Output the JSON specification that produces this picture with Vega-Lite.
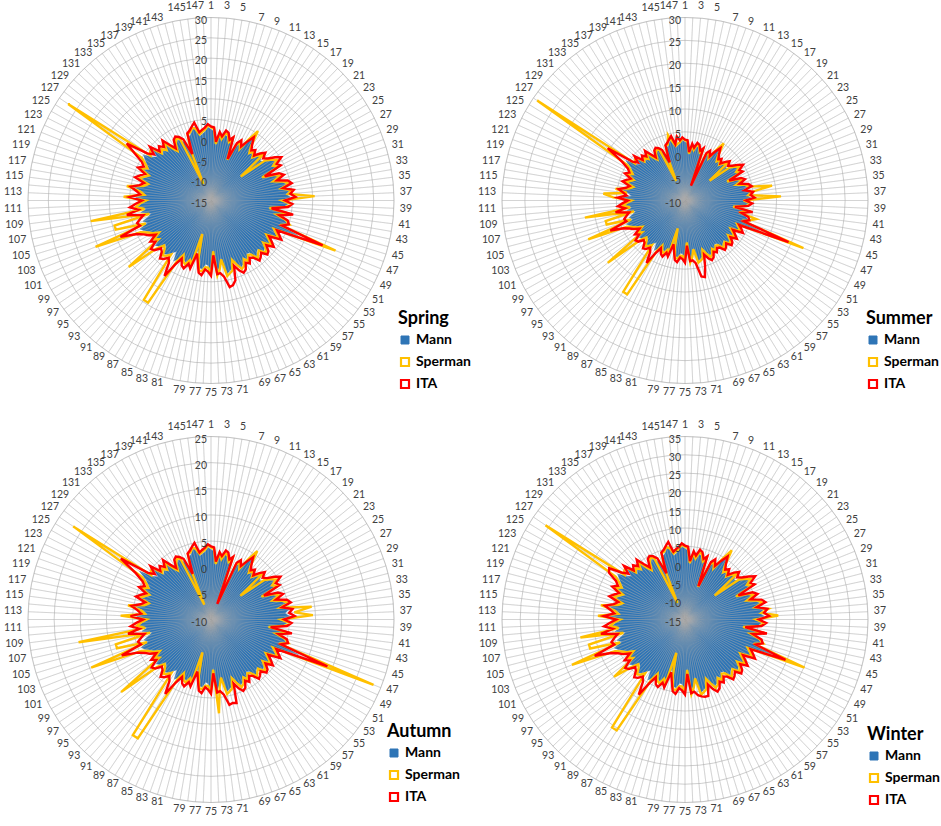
{
  "$schema": "https://vega.github.io/schema/vega-lite/v6.json",
  "padding": 0,
  "bounds": "flush",
  "background": "white",
  "columns": 2,
  "spacing": {"row": 18, "column": 52},
  "datasets": {
    "spring": [
      {"i":1,"M":2.5,"S":3,"I":3.2},{"i":2,"M":2,"S":2.6,"I":3},{"i":3,"M":-1.5,"S":-1,"I":-0.5},{"i":4,"M":1,"S":1.5,"I":2},{"i":5,"M":0,"S":0.3,"I":1},
      {"i":6,"M":1.5,"S":2,"I":2.6},{"i":7,"M":1.2,"S":1.6,"I":2.2},{"i":8,"M":-0.5,"S":0,"I":0.6},{"i":9,"M":0.5,"S":1,"I":1.5},{"i":10,"M":-4.5,"S":-4.2,"I":-4},
      {"i":11,"M":-0.5,"S":0,"I":0.5},{"i":12,"M":0.5,"S":1,"I":1.6},{"i":13,"M":-1,"S":-0.5,"I":0.2},{"i":14,"M":1.5,"S":2.5,"I":2},{"i":15,"M":3.3,"S":5.6,"I":3.8},
      {"i":16,"M":1,"S":1.5,"I":2},{"i":17,"M":-0.5,"S":0,"I":0.8},{"i":18,"M":0.5,"S":1,"I":1.5},{"i":19,"M":-0.8,"S":-0.3,"I":0.3},{"i":20,"M":0.5,"S":1,"I":1.7},
      {"i":21,"M":1.5,"S":2,"I":2.8},{"i":22,"M":0.5,"S":-5.6,"I":1.5},{"i":23,"M":1,"S":1.5,"I":2.4},{"i":24,"M":2.5,"S":3,"I":4},{"i":25,"M":3.5,"S":4,"I":5.3},
      {"i":26,"M":2,"S":2.5,"I":3.5},{"i":27,"M":3,"S":3.5,"I":4.2},{"i":28,"M":-1.7,"S":-1.2,"I":-0.5},{"i":29,"M":1.5,"S":2,"I":3},{"i":30,"M":2.5,"S":3,"I":4},
      {"i":31,"M":0.5,"S":1,"I":2},{"i":32,"M":3,"S":3.5,"I":4.5},{"i":33,"M":4,"S":4.6,"I":5.3},{"i":34,"M":2,"S":2.5,"I":3},{"i":35,"M":4.5,"S":5,"I":5.5},
      {"i":36,"M":3.5,"S":4,"I":4.6},{"i":37,"M":4.5,"S":10.5,"I":5.8},{"i":38,"M":2,"S":2.5,"I":3.2},{"i":39,"M":4,"S":4.6,"I":5},{"i":40,"M":3,"S":3.5,"I":4},
      {"i":41,"M":-1,"S":-0.5,"I":0},{"i":42,"M":4.5,"S":5,"I":5.5},{"i":43,"M":1,"S":1.5,"I":2.2},{"i":44,"M":3.5,"S":4,"I":4.5},{"i":45,"M":4.6,"S":5.2,"I":5},
      {"i":46,"M":2.5,"S":3,"I":3.5},{"i":47,"M":8,"S":18,"I":14.6},{"i":48,"M":1.5,"S":2,"I":2.8},{"i":49,"M":2.5,"S":3,"I":3.8},{"i":50,"M":3.7,"S":4,"I":4.8},
      {"i":51,"M":0.5,"S":1,"I":1.8},{"i":52,"M":1.8,"S":2.2,"I":3},{"i":53,"M":3,"S":3.5,"I":4.2},{"i":54,"M":1,"S":1.5,"I":2.5},{"i":55,"M":2.5,"S":3,"I":3.8},
      {"i":56,"M":3,"S":3.6,"I":4.2},{"i":57,"M":1.5,"S":2,"I":2.8},{"i":58,"M":2,"S":2.5,"I":3.5},{"i":59,"M":2.8,"S":3.3,"I":4},{"i":60,"M":1,"S":1.5,"I":2.5},
      {"i":61,"M":0.7,"S":1.2,"I":2},{"i":62,"M":2,"S":2.5,"I":3.2},{"i":63,"M":1,"S":1.5,"I":2.5},{"i":64,"M":2.5,"S":3,"I":4},{"i":65,"M":3,"S":3.5,"I":4.5},
      {"i":66,"M":1.5,"S":2,"I":3.5},{"i":67,"M":-0.2,"S":0.5,"I":2},{"i":68,"M":2.5,"S":3,"I":5.5},{"i":69,"M":3,"S":3.5,"I":6.5},{"i":70,"M":3.5,"S":4,"I":6.8},
      {"i":71,"M":-0.8,"S":-0.3,"I":4},{"i":72,"M":1.5,"S":2,"I":3},{"i":73,"M":2.5,"S":3.5,"I":3.2},{"i":74,"M":-3,"S":-2.5,"I":-1.5},{"i":75,"M":2.3,"S":3,"I":3.5},
      {"i":76,"M":1,"S":1.5,"I":2.5},{"i":77,"M":0.7,"S":1.5,"I":2},{"i":78,"M":2,"S":2.5,"I":3.5},{"i":79,"M":1.8,"S":2.5,"I":3},{"i":80,"M":-1,"S":-0.5,"I":0.5},
      {"i":81,"M":-2.5,"S":-6.5,"I":-1.5},{"i":82,"M":1,"S":1.5,"I":2.5},{"i":83,"M":0,"S":0.5,"I":1.5},{"i":84,"M":1.5,"S":2,"I":3},{"i":85,"M":1,"S":1.5,"I":2.5},
      {"i":86,"M":-0.5,"S":0,"I":1},{"i":87,"M":1.5,"S":2,"I":3},{"i":88,"M":2.5,"S":14.5,"I":6.8},{"i":89,"M":0.1,"S":14.5,"I":3.5},{"i":90,"M":1,"S":1.5,"I":2.5},
      {"i":91,"M":2,"S":2.5,"I":3.5},{"i":92,"M":2.5,"S":3,"I":4},{"i":93,"M":1,"S":1.5,"I":2.5},{"i":94,"M":0.5,"S":1,"I":2},{"i":95,"M":2,"S":3,"I":3.5},
      {"i":96,"M":2.6,"S":11,"I":4},{"i":97,"M":0.5,"S":1,"I":2},{"i":98,"M":1.5,"S":2,"I":3},{"i":99,"M":-0.5,"S":0,"I":1},{"i":100,"M":1,"S":1.5,"I":2.5},
      {"i":101,"M":2,"S":2.5,"I":3.5},{"i":102,"M":3,"S":4,"I":5},{"i":103,"M":3.8,"S":15.6,"I":9},{"i":104,"M":1.5,"S":2,"I":3.5},{"i":105,"M":2.5,"S":9.5,"I":4},
      {"i":106,"M":1,"S":9.5,"I":3},{"i":107,"M":0,"S":0.5,"I":2},{"i":108,"M":2.5,"S":15,"I":6},{"i":109,"M":1,"S":1.5,"I":3},{"i":110,"M":3,"S":3.5,"I":5},
      {"i":111,"M":2,"S":2.5,"I":3.5},{"i":112,"M":0.5,"S":1,"I":2},{"i":113,"M":3.5,"S":6.5,"I":5},{"i":114,"M":1,"S":1.5,"I":2.5},{"i":115,"M":2,"S":2.5,"I":3.5},
      {"i":116,"M":4,"S":6,"I":5},{"i":117,"M":1.5,"S":2,"I":3},{"i":118,"M":0.5,"S":1,"I":2},{"i":119,"M":3,"S":3.5,"I":4.5},{"i":120,"M":2,"S":2.5,"I":3.5},
      {"i":121,"M":1.1,"S":1.5,"I":2.5},{"i":122,"M":3.5,"S":4,"I":4.7},{"i":123,"M":2,"S":2.5,"I":3.5},{"i":124,"M":3,"S":3.5,"I":4.5},{"i":125,"M":4,"S":5,"I":7},
      {"i":126,"M":5,"S":27.4,"I":10},{"i":127,"M":3,"S":3.5,"I":4.5},{"i":128,"M":2,"S":4.2,"I":3},{"i":129,"M":4,"S":4.5,"I":5},{"i":130,"M":1.2,"S":1.8,"I":2.5},
      {"i":131,"M":2,"S":2.5,"I":3.5},{"i":132,"M":1,"S":1.5,"I":2.5},{"i":133,"M":3,"S":3.5,"I":4},{"i":134,"M":0.5,"S":1,"I":2},{"i":135,"M":-0.8,"S":-0.3,"I":0.5},
      {"i":136,"M":1,"S":1.5,"I":2.5},{"i":137,"M":2,"S":2.5,"I":3},{"i":138,"M":1.5,"S":2,"I":2.5},{"i":139,"M":0.5,"S":-10.5,"I":1.5},{"i":140,"M":-2,"S":-1.5,"I":-2.7},
      {"i":141,"M":1.5,"S":2.3,"I":2.5},{"i":142,"M":2,"S":2.5,"I":3},{"i":143,"M":3,"S":3.5,"I":3.8},{"i":144,"M":3.5,"S":3,"I":4.6},{"i":145,"M":1,"S":1.5,"I":2},
      {"i":146,"M":1.5,"S":2,"I":2.5},{"i":147,"M":2,"S":2.5,"I":3},{"i":148,"M":3,"S":3.5,"I":3.8}
    ],
    "summer": [
      {"i":1,"M":2.8,"S":3.2,"I":3.3},{"i":2,"M":2.5,"S":2.9,"I":3.2},{"i":3,"M":-0.1,"S":0.3,"I":0.6},{"i":4,"M":1.7,"S":2.1,"I":2.5},{"i":5,"M":1,"S":1.2,"I":1.7},
      {"i":6,"M":2.1,"S":2.5,"I":2.9},{"i":7,"M":1.9,"S":2.2,"I":2.6},{"i":8,"M":0.6,"S":1,"I":1.4},{"i":9,"M":1.4,"S":1.7,"I":2.1},{"i":10,"M":-6,"S":-6,"I":-6.5},
      {"i":11,"M":0.6,"S":1,"I":1.4},{"i":12,"M":1.4,"S":1.7,"I":2.2},{"i":13,"M":0.3,"S":0.6,"I":1.1},{"i":14,"M":2.1,"S":2.8,"I":2.5},{"i":15,"M":3.4,"S":5.1,"I":3.8},
      {"i":16,"M":1.7,"S":2.1,"I":2.5},{"i":17,"M":0.6,"S":1,"I":1.6},{"i":18,"M":1.4,"S":1.7,"I":2.1},{"i":19,"M":0.4,"S":0.8,"I":1.2},{"i":20,"M":1.4,"S":1.7,"I":2.2},
      {"i":21,"M":2.1,"S":2.5,"I":3},{"i":22,"M":1.4,"S":-3.1,"I":2.1},{"i":23,"M":1.7,"S":2.1,"I":2.8},{"i":24,"M":2.8,"S":3.2,"I":3.9},{"i":25,"M":3.6,"S":3.9,"I":4.9},
      {"i":26,"M":2.5,"S":2.8,"I":3.6},{"i":27,"M":3.2,"S":3.6,"I":4.1},{"i":28,"M":-0.2,"S":0.1,"I":0.6},{"i":29,"M":2.1,"S":2.5,"I":3.2},{"i":30,"M":2.8,"S":3.2,"I":3.9},
      {"i":31,"M":1.4,"S":1.7,"I":2.5},{"i":32,"M":3.2,"S":3.6,"I":4.3},{"i":33,"M":3.9,"S":4.4,"I":4.9},{"i":34,"M":2.5,"S":9.3,"I":3.2},{"i":35,"M":4.3,"S":4.7,"I":5},
      {"i":36,"M":3.6,"S":3.9,"I":4.4},{"i":37,"M":4.3,"S":11,"I":5.2},{"i":38,"M":2.5,"S":2.8,"I":3.3},{"i":39,"M":3.9,"S":4.4,"I":4.7},{"i":40,"M":3.2,"S":3.6,"I":3.9},
      {"i":41,"M":0.3,"S":0.6,"I":1},{"i":42,"M":4.3,"S":4.7,"I":5},{"i":43,"M":1.7,"S":2.1,"I":2.6},{"i":44,"M":3.6,"S":6.1,"I":4.3},{"i":45,"M":4.4,"S":4.8,"I":4.7},
      {"i":46,"M":2.8,"S":3.2,"I":3.6},{"i":47,"M":7.5,"S":17.9,"I":14.4},{"i":48,"M":2.1,"S":2.5,"I":3},{"i":49,"M":2.8,"S":3.2,"I":3.8},{"i":50,"M":3.7,"S":3.9,"I":4.5},
      {"i":51,"M":1.4,"S":1.7,"I":2.3},{"i":52,"M":2.3,"S":2.6,"I":3.2},{"i":53,"M":3.2,"S":3.6,"I":4.1},{"i":54,"M":1.7,"S":2.1,"I":2.8},{"i":55,"M":2.8,"S":3.2,"I":3.8},
      {"i":56,"M":3.2,"S":3.6,"I":4.1},{"i":57,"M":2.1,"S":2.5,"I":3},{"i":58,"M":2.5,"S":2.8,"I":3.6},{"i":59,"M":3,"S":3.4,"I":3.9},{"i":60,"M":1.7,"S":2.1,"I":2.8},
      {"i":61,"M":1.5,"S":1.9,"I":2.5},{"i":62,"M":2.5,"S":2.8,"I":3.3},{"i":63,"M":1.7,"S":2.1,"I":2.8},{"i":64,"M":2.8,"S":3.2,"I":3.9},{"i":65,"M":3.2,"S":3.6,"I":4.3},
      {"i":66,"M":2.1,"S":2.5,"I":3.6},{"i":67,"M":0.9,"S":1.4,"I":2.5},{"i":68,"M":2.8,"S":3.2,"I":5},{"i":69,"M":3.2,"S":3.6,"I":7.3},{"i":70,"M":3.6,"S":3.9,"I":7},
      {"i":71,"M":0.4,"S":0.8,"I":3.9},{"i":72,"M":2.1,"S":2.5,"I":3.2},{"i":73,"M":2.8,"S":3.6,"I":3.3},{"i":74,"M":-1.2,"S":-0.8,"I":-0.1},{"i":75,"M":2.7,"S":3.2,"I":3.6},
      {"i":76,"M":1.7,"S":2.1,"I":2.8},{"i":77,"M":1.5,"S":2.1,"I":2.5},{"i":78,"M":2.5,"S":2.8,"I":3.6},{"i":79,"M":2.3,"S":2.8,"I":3.2},{"i":80,"M":0.3,"S":0.6,"I":1.4},
      {"i":81,"M":-0.8,"S":-3.7,"I":-0.1},{"i":82,"M":1.7,"S":2.1,"I":2.8},{"i":83,"M":1,"S":1.4,"I":2.1},{"i":84,"M":2.1,"S":2.5,"I":3.2},{"i":85,"M":1.7,"S":2.1,"I":2.8},
      {"i":86,"M":0.6,"S":1,"I":1.7},{"i":87,"M":2.1,"S":2.5,"I":3.2},{"i":88,"M":2.8,"S":14.1,"I":6},{"i":89,"M":1.1,"S":14.1,"I":3.6},{"i":90,"M":1.7,"S":2.1,"I":2.8},
      {"i":91,"M":2.5,"S":2.8,"I":3.6},{"i":92,"M":2.8,"S":3.2,"I":3.9},{"i":93,"M":1.7,"S":2.1,"I":2.8},{"i":94,"M":1.4,"S":1.7,"I":2.5},{"i":95,"M":2.5,"S":3.2,"I":3.6},
      {"i":96,"M":2.9,"S":11.7,"I":3.9},{"i":97,"M":1.4,"S":1.7,"I":2.5},{"i":98,"M":2.1,"S":2.5,"I":3.2},{"i":99,"M":0.6,"S":1,"I":1.7},{"i":100,"M":1.7,"S":2.1,"I":2.8},
      {"i":101,"M":2.5,"S":2.8,"I":3.6},{"i":102,"M":3.2,"S":3.9,"I":4.7},{"i":103,"M":3.8,"S":12.8,"I":7.6},{"i":104,"M":2.1,"S":2.5,"I":3.6},{"i":105,"M":2.8,"S":7.9,"I":3.9},
      {"i":106,"M":1.7,"S":7.9,"I":3.2},{"i":107,"M":1,"S":1.4,"I":2.5},{"i":108,"M":2.8,"S":12.2,"I":5.4},{"i":109,"M":1.7,"S":2.1,"I":3.2},{"i":110,"M":3.2,"S":3.6,"I":4.7},
      {"i":111,"M":2.5,"S":2.8,"I":3.6},{"i":112,"M":1.4,"S":1.7,"I":2.5},{"i":113,"M":3.6,"S":5.7,"I":4.7},{"i":114,"M":1.7,"S":7.9,"I":2.8},{"i":115,"M":2.5,"S":2.8,"I":3.6},
      {"i":116,"M":3.9,"S":5.4,"I":4.7},{"i":117,"M":2.1,"S":2.5,"I":3.2},{"i":118,"M":1.4,"S":1.7,"I":2.5},{"i":119,"M":3.2,"S":3.6,"I":4.3},{"i":120,"M":2.5,"S":2.8,"I":3.6},
      {"i":121,"M":1.8,"S":2.1,"I":2.8},{"i":122,"M":3.6,"S":3.9,"I":4.4},{"i":123,"M":2.5,"S":2.8,"I":3.6},{"i":124,"M":3.2,"S":3.6,"I":4.3},{"i":125,"M":3.9,"S":4.7,"I":6.1},
      {"i":126,"M":5.6,"S":29,"I":10.4},{"i":127,"M":3.2,"S":3.6,"I":4.3},{"i":128,"M":2.5,"S":4.1,"I":3.2},{"i":129,"M":3.9,"S":4.3,"I":4.7},{"i":130,"M":1.9,"S":2.3,"I":2.8},
      {"i":131,"M":2.5,"S":2.8,"I":3.6},{"i":132,"M":1.7,"S":2.1,"I":2.8},{"i":133,"M":3.2,"S":3.6,"I":3.9},{"i":134,"M":1.4,"S":1.7,"I":2.5},{"i":135,"M":0.4,"S":0.8,"I":1.4},
      {"i":136,"M":1.7,"S":2.1,"I":2.8},{"i":137,"M":2.5,"S":2.8,"I":3.2},{"i":138,"M":2.1,"S":2.5,"I":2.8},{"i":139,"M":1.4,"S":-5.3,"I":2.1},{"i":140,"M":-0.5,"S":-0.1,"I":-1},
      {"i":141,"M":2.1,"S":2.7,"I":2.8},{"i":142,"M":2.5,"S":2.8,"I":3.2},{"i":143,"M":3.2,"S":4.8,"I":3.8},{"i":144,"M":3.6,"S":3.2,"I":4.4},{"i":145,"M":1.7,"S":2.1,"I":2.5},
      {"i":146,"M":2.1,"S":2.5,"I":4.1},{"i":147,"M":2.5,"S":2.8,"I":3.2},{"i":148,"M":3.2,"S":3.6,"I":3.8}
    ],
    "autumn": [
      {"i":1,"M":3.4,"S":3.8,"I":4},{"i":2,"M":3,"S":3.5,"I":3.8},{"i":3,"M":0.3,"S":0.7,"I":1.1},{"i":4,"M":2.3,"S":2.7,"I":3},{"i":5,"M":1.5,"S":1.7,"I":2.3},
      {"i":6,"M":2.7,"S":3,"I":3.5},{"i":7,"M":2.4,"S":2.7,"I":3.2},{"i":8,"M":1.1,"S":1.5,"I":2},{"i":9,"M":1.9,"S":2.3,"I":2.7},{"i":10,"M":-6.5,"S":-6.5,"I":-6.8},
      {"i":11,"M":1.1,"S":1.5,"I":1.9},{"i":12,"M":1.9,"S":2.3,"I":2.7},{"i":13,"M":0.7,"S":1.1,"I":1.7},{"i":14,"M":2.7,"S":3.4,"I":3},{"i":15,"M":4,"S":5.8,"I":4.4},
      {"i":16,"M":2.3,"S":2.7,"I":3},{"i":17,"M":1.1,"S":1.5,"I":2.1},{"i":18,"M":1.9,"S":2.3,"I":2.7},{"i":19,"M":0.9,"S":1.3,"I":1.7},{"i":20,"M":1.9,"S":2.3,"I":2.8},
      {"i":21,"M":2.7,"S":3,"I":3.7},{"i":22,"M":1.9,"S":-2.8,"I":2.7},{"i":23,"M":2.3,"S":2.7,"I":3.3},{"i":24,"M":3.4,"S":3.8,"I":4.6},{"i":25,"M":4.2,"S":4.6,"I":5.6},
      {"i":26,"M":3,"S":3.4,"I":4.2},{"i":27,"M":3.8,"S":4.2,"I":4.7},{"i":28,"M":0.2,"S":0.6,"I":1.1},{"i":29,"M":2.7,"S":3,"I":3.8},{"i":30,"M":3.4,"S":3.8,"I":4.6},
      {"i":31,"M":1.9,"S":2.3,"I":3},{"i":32,"M":3.8,"S":4.2,"I":5},{"i":33,"M":4.6,"S":5,"I":5.6},{"i":34,"M":3,"S":3.4,"I":3.8},{"i":35,"M":5,"S":9.4,"I":5.7},
      {"i":36,"M":4.2,"S":6,"I":5},{"i":37,"M":5,"S":9.5,"I":6},{"i":38,"M":3,"S":3.4,"I":4},{"i":39,"M":4.6,"S":5,"I":5.4},{"i":40,"M":3.8,"S":4.2,"I":4.6},
      {"i":41,"M":0.7,"S":1.1,"I":1.5},{"i":42,"M":5,"S":5.4,"I":5.7},{"i":43,"M":2.3,"S":2.7,"I":3.2},{"i":44,"M":4.2,"S":4.6,"I":5},{"i":45,"M":5,"S":5.5,"I":5.4},
      {"i":46,"M":3.4,"S":3.8,"I":4.2},{"i":47,"M":8,"S":23.5,"I":14},{"i":48,"M":2.7,"S":3,"I":3.7},{"i":49,"M":3.4,"S":3.8,"I":4.4},{"i":50,"M":4.3,"S":4.6,"I":5.2},
      {"i":51,"M":1.9,"S":2.3,"I":2.9},{"i":52,"M":2.9,"S":3.2,"I":3.8},{"i":53,"M":3.8,"S":4.2,"I":4.7},{"i":54,"M":2.3,"S":2.7,"I":3.4},{"i":55,"M":3.4,"S":3.8,"I":4.4},
      {"i":56,"M":3.8,"S":4.3,"I":4.7},{"i":57,"M":2.7,"S":3,"I":3.7},{"i":58,"M":3,"S":3.4,"I":4.2},{"i":59,"M":3.7,"S":4,"I":4.6},{"i":60,"M":2.3,"S":2.7,"I":3.4},
      {"i":61,"M":2,"S":2.4,"I":3},{"i":62,"M":3,"S":3.4,"I":4},{"i":63,"M":2.3,"S":2.7,"I":3.4},{"i":64,"M":3.4,"S":3.8,"I":4.6},{"i":65,"M":3.8,"S":4.2,"I":5},
      {"i":66,"M":2.7,"S":3,"I":4.2},{"i":67,"M":1.3,"S":1.9,"I":3},{"i":68,"M":3.4,"S":3.8,"I":6.7},{"i":69,"M":3.8,"S":4.2,"I":6.5},{"i":70,"M":4.2,"S":4.6,"I":6.7},
      {"i":71,"M":0.9,"S":1.3,"I":4.6},{"i":72,"M":2.7,"S":3,"I":3.8},{"i":73,"M":3.4,"S":8,"I":4},{"i":74,"M":-0.8,"S":-0.4,"I":0.3},{"i":75,"M":3.3,"S":3.8,"I":4.2},
      {"i":76,"M":2.3,"S":2.7,"I":3.4},{"i":77,"M":2,"S":2.7,"I":3},{"i":78,"M":3,"S":3.4,"I":4.2},{"i":79,"M":2.9,"S":3.4,"I":3.8},{"i":80,"M":0.7,"S":1.1,"I":1.9},
      {"i":81,"M":-0.4,"S":-3.5,"I":0.3},{"i":82,"M":2.3,"S":2.7,"I":3.4},{"i":83,"M":1.5,"S":1.9,"I":2.7},{"i":84,"M":2.7,"S":3,"I":3.8},{"i":85,"M":2.3,"S":2.7,"I":3.4},
      {"i":86,"M":1.1,"S":1.5,"I":2.3},{"i":87,"M":2.7,"S":3,"I":3.8},{"i":88,"M":3.4,"S":16.7,"I":6.7},{"i":89,"M":1.6,"S":16.7,"I":4.2},{"i":90,"M":2.3,"S":2.7,"I":3.4},
      {"i":91,"M":3,"S":3.4,"I":4.2},{"i":92,"M":3.4,"S":3.8,"I":4.6},{"i":93,"M":2.3,"S":2.7,"I":3.4},{"i":94,"M":1.9,"S":2.3,"I":3},{"i":95,"M":3,"S":3.8,"I":4.2},
      {"i":96,"M":3.5,"S":12.1,"I":4.6},{"i":97,"M":1.9,"S":2.3,"I":3},{"i":98,"M":2.7,"S":3,"I":3.8},{"i":99,"M":1.1,"S":1.5,"I":2.3},{"i":100,"M":2.3,"S":2.7,"I":3.4},
      {"i":101,"M":3,"S":3.4,"I":4.2},{"i":102,"M":3.8,"S":4.6,"I":5.4},{"i":103,"M":4.4,"S":14.7,"I":8.4},{"i":104,"M":2.7,"S":3,"I":4.2},{"i":105,"M":3.4,"S":8.8,"I":4.6},
      {"i":106,"M":2.3,"S":8.8,"I":3.8},{"i":107,"M":1.5,"S":1.9,"I":3},{"i":108,"M":3.4,"S":15.7,"I":6.1},{"i":109,"M":2.3,"S":2.7,"I":3.8},{"i":110,"M":3.8,"S":4.2,"I":5.4},
      {"i":111,"M":3,"S":3.4,"I":4.2},{"i":112,"M":1.9,"S":2.3,"I":3},{"i":113,"M":4.2,"S":7.3,"I":5.4},{"i":114,"M":2.3,"S":2.7,"I":3.4},{"i":115,"M":3,"S":3.4,"I":4.2},
      {"i":116,"M":4.6,"S":6.1,"I":5.4},{"i":117,"M":2.7,"S":3,"I":3.8},{"i":118,"M":1.9,"S":2.3,"I":3},{"i":119,"M":3.8,"S":4.2,"I":5},{"i":120,"M":3,"S":3.4,"I":4.2},
      {"i":121,"M":2.3,"S":2.7,"I":3.4},{"i":122,"M":4.2,"S":4.6,"I":5.1},{"i":123,"M":3,"S":3.4,"I":4.2},{"i":124,"M":3.8,"S":4.2,"I":5},{"i":125,"M":4.6,"S":5.4,"I":6.9},
      {"i":126,"M":6.5,"S":21.8,"I":10.8},{"i":127,"M":3.8,"S":4.2,"I":5},{"i":128,"M":3,"S":4.7,"I":3.8},{"i":129,"M":4.6,"S":5,"I":5.4},{"i":130,"M":2.4,"S":2.9,"I":3.4},
      {"i":131,"M":3,"S":3.4,"I":4.2},{"i":132,"M":2.3,"S":2.7,"I":3.4},{"i":133,"M":3.8,"S":4.2,"I":4.6},{"i":134,"M":1.9,"S":2.3,"I":3},{"i":135,"M":0.9,"S":1.3,"I":1.9},
      {"i":136,"M":2.3,"S":2.7,"I":3.4},{"i":137,"M":3,"S":3.4,"I":3.8},{"i":138,"M":2.7,"S":3,"I":3.4},{"i":139,"M":1.9,"S":-6.9,"I":2.7},{"i":140,"M":0,"S":0.3,"I":-0.6},
      {"i":141,"M":2.7,"S":3.3,"I":3.4},{"i":142,"M":3,"S":3.4,"I":3.8},{"i":143,"M":3.8,"S":4.2,"I":4.4},{"i":144,"M":4.2,"S":3.8,"I":5},{"i":145,"M":2.3,"S":2.7,"I":3},
      {"i":146,"M":2.7,"S":3,"I":3.4},{"i":147,"M":3,"S":3.4,"I":3.8},{"i":148,"M":3.8,"S":4.2,"I":4.4}
    ],
    "winter": [
      {"i":1,"M":4.4,"S":4.9,"I":5.2},{"i":2,"M":3.8,"S":4.5,"I":4.9},{"i":3,"M":-0.1,"S":0.5,"I":1},{"i":4,"M":2.7,"S":3.3,"I":3.8},{"i":5,"M":1.6,"S":1.9,"I":2.7},
      {"i":6,"M":3.3,"S":3.8,"I":4.5},{"i":7,"M":2.9,"S":3.4,"I":4},{"i":8,"M":1,"S":1.6,"I":2.3},{"i":9,"M":2.2,"S":2.7,"I":3.3},{"i":10,"M":-5.7,"S":-5.4,"I":-5.2},
      {"i":11,"M":1,"S":1.6,"I":2.2},{"i":12,"M":2.2,"S":2.7,"I":3.4},{"i":13,"M":0.5,"S":1,"I":1.8},{"i":14,"M":3.3,"S":4.4,"I":3.8},{"i":15,"M":5.3,"S":7.8,"I":5.8},
      {"i":16,"M":2.7,"S":3.3,"I":3.8},{"i":17,"M":1,"S":1.6,"I":2.5},{"i":18,"M":2.2,"S":2.7,"I":3.3},{"i":19,"M":0.7,"S":1.3,"I":1.9},{"i":20,"M":2.2,"S":2.7,"I":3.5},
      {"i":21,"M":3.3,"S":3.8,"I":4.7},{"i":22,"M":2.2,"S":-4.6,"I":3.3},{"i":23,"M":2.7,"S":3.3,"I":4.3},{"i":24,"M":4.4,"S":4.9,"I":6},{"i":25,"M":5.5,"S":6,"I":7.5},
      {"i":26,"M":3.8,"S":4.4,"I":5.5},{"i":27,"M":4.9,"S":5.5,"I":6.3},{"i":28,"M":-0.3,"S":0.3,"I":1},{"i":29,"M":3.3,"S":3.8,"I":4.9},{"i":30,"M":4.4,"S":4.9,"I":6},
      {"i":31,"M":2.2,"S":2.7,"I":3.8},{"i":32,"M":4.9,"S":5.5,"I":6.6},{"i":33,"M":6,"S":6.7,"I":7.5},{"i":34,"M":3.8,"S":4.4,"I":4.9},{"i":35,"M":6.6,"S":8,"I":7.7},
      {"i":36,"M":5.5,"S":6,"I":6.7},{"i":37,"M":6.6,"S":10.5,"I":8},{"i":38,"M":3.8,"S":4.4,"I":5.2},{"i":39,"M":6,"S":6.7,"I":7.2},{"i":40,"M":4.9,"S":5.5,"I":6},
      {"i":41,"M":0.5,"S":1,"I":1.6},{"i":42,"M":6.6,"S":7.2,"I":7.7},{"i":43,"M":2.7,"S":3.3,"I":4},{"i":44,"M":5.5,"S":6,"I":6.6},{"i":45,"M":6.7,"S":7.4,"I":7.2},
      {"i":46,"M":4.4,"S":4.9,"I":5.5},{"i":47,"M":10.5,"S":20.2,"I":14.6},{"i":48,"M":3.3,"S":3.8,"I":4.7},{"i":49,"M":4.4,"S":4.9,"I":5.8},{"i":50,"M":5.7,"S":6,"I":6.9},
      {"i":51,"M":2.2,"S":2.7,"I":3.6},{"i":52,"M":3.6,"S":4,"I":4.9},{"i":53,"M":4.9,"S":5.5,"I":6.3},{"i":54,"M":2.7,"S":3.3,"I":4.4},{"i":55,"M":4.4,"S":4.9,"I":5.8},
      {"i":56,"M":4.9,"S":5.6,"I":6.3},{"i":57,"M":3.3,"S":3.8,"I":4.7},{"i":58,"M":3.8,"S":4.4,"I":5.5},{"i":59,"M":4.7,"S":5.3,"I":6},{"i":60,"M":2.7,"S":3.3,"I":4.4},
      {"i":61,"M":2.4,"S":2.9,"I":3.8},{"i":62,"M":3.8,"S":4.4,"I":5.2},{"i":63,"M":2.7,"S":3.3,"I":4.4},{"i":64,"M":4.4,"S":4.9,"I":6},{"i":65,"M":4.9,"S":5.5,"I":6.6},
      {"i":66,"M":3.3,"S":3.8,"I":5.5},{"i":67,"M":1.4,"S":2.2,"I":3.8},{"i":68,"M":4.4,"S":4.9,"I":6.8},{"i":69,"M":4.9,"S":5.5,"I":6.8},{"i":70,"M":5.5,"S":6,"I":6.5},
      {"i":71,"M":0.7,"S":1.3,"I":6},{"i":72,"M":3.3,"S":3.8,"I":4.9},{"i":73,"M":4.4,"S":5.5,"I":5.2},{"i":74,"M":-1.7,"S":-1.2,"I":-0.1},{"i":75,"M":4.2,"S":4.9,"I":5.5},
      {"i":76,"M":2.7,"S":3.3,"I":4.4},{"i":77,"M":2.4,"S":3.3,"I":3.8},{"i":78,"M":3.8,"S":4.4,"I":5.5},{"i":79,"M":3.6,"S":4.4,"I":4.9},{"i":80,"M":0.5,"S":1,"I":2.2},
      {"i":81,"M":-1.2,"S":-5.6,"I":-0.1},{"i":82,"M":2.7,"S":3.3,"I":4.4},{"i":83,"M":1.6,"S":2.2,"I":3.3},{"i":84,"M":3.3,"S":3.8,"I":4.9},{"i":85,"M":2.7,"S":3.3,"I":4.4},
      {"i":86,"M":1,"S":1.6,"I":2.7},{"i":87,"M":3.3,"S":3.8,"I":4.9},{"i":88,"M":4.4,"S":20.6,"I":9.1},{"i":89,"M":1.7,"S":20.6,"I":5.5},{"i":90,"M":2.7,"S":3.3,"I":4.4},
      {"i":91,"M":3.8,"S":4.4,"I":5.5},{"i":92,"M":4.4,"S":4.9,"I":6},{"i":93,"M":2.7,"S":3.3,"I":4.4},{"i":94,"M":2.2,"S":2.7,"I":3.8},{"i":95,"M":3.8,"S":4.9,"I":5.5},
      {"i":96,"M":4.5,"S":9.9,"I":6},{"i":97,"M":2.2,"S":2.7,"I":3.8},{"i":98,"M":3.3,"S":3.8,"I":4.9},{"i":99,"M":1,"S":1.6,"I":2.7},{"i":100,"M":2.7,"S":3.3,"I":4.4},
      {"i":101,"M":3.8,"S":4.4,"I":5.5},{"i":102,"M":4.9,"S":6,"I":7.2},{"i":103,"M":5.8,"S":18.3,"I":11.6},{"i":104,"M":3.3,"S":3.8,"I":5.5},{"i":105,"M":4.4,"S":12.1,"I":6},
      {"i":106,"M":2.7,"S":12.1,"I":4.9},{"i":107,"M":1.6,"S":2.2,"I":3.8},{"i":108,"M":4.4,"S":14,"I":8.3},{"i":109,"M":2.7,"S":3.3,"I":4.9},{"i":110,"M":4.9,"S":5.5,"I":7.2},
      {"i":111,"M":3.8,"S":4.4,"I":5.5},{"i":112,"M":2.2,"S":2.7,"I":3.8},{"i":113,"M":5.5,"S":8.8,"I":7.2},{"i":114,"M":2.7,"S":3.3,"I":4.4},{"i":115,"M":3.8,"S":4.4,"I":5.5},
      {"i":116,"M":6,"S":8.3,"I":7.2},{"i":117,"M":3.3,"S":3.8,"I":4.9},{"i":118,"M":2.2,"S":2.7,"I":3.8},{"i":119,"M":4.9,"S":5.5,"I":6.6},{"i":120,"M":3.8,"S":4.4,"I":5.5},
      {"i":121,"M":2.8,"S":3.3,"I":4.4},{"i":122,"M":5.5,"S":6,"I":6.8},{"i":123,"M":3.8,"S":4.4,"I":5.5},{"i":124,"M":4.9,"S":5.5,"I":6.6},{"i":125,"M":6,"S":7.2,"I":9.4},
      {"i":126,"M":7.2,"S":31,"I":10},{"i":127,"M":4.9,"S":5.5,"I":6.6},{"i":128,"M":3.8,"S":6.3,"I":4.9},{"i":129,"M":6,"S":6.6,"I":7.2},{"i":130,"M":2.9,"S":3.6,"I":4.4},
      {"i":131,"M":3.8,"S":4.4,"I":5.5},{"i":132,"M":2.7,"S":3.3,"I":4.4},{"i":133,"M":4.9,"S":5.5,"I":6},{"i":134,"M":2.2,"S":2.7,"I":3.8},{"i":135,"M":0.7,"S":1.3,"I":2.2},
      {"i":136,"M":2.7,"S":3.3,"I":4.4},{"i":137,"M":3.8,"S":4.4,"I":4.9},{"i":138,"M":3.3,"S":3.8,"I":4.4},{"i":139,"M":2.2,"S":-10,"I":3.3},{"i":140,"M":-0.6,"S":-0.1,"I":-1.4},
      {"i":141,"M":3.3,"S":4.2,"I":4.4},{"i":142,"M":3.8,"S":4.4,"I":4.9},{"i":143,"M":4.9,"S":5.5,"I":5.8},{"i":144,"M":5.5,"S":4.9,"I":6.7},{"i":145,"M":2.7,"S":3.3,"I":3.8},
      {"i":146,"M":3.3,"S":3.8,"I":4.4},{"i":147,"M":3.8,"S":4.4,"I":4.9},{"i":148,"M":4.9,"S":5.5,"I":5.8}
    ]
  },
  "concat": [
    {
      "width": 422, "height": 401,
      "layer": [
        {"data": {"values": [{"lv":-10},{"lv":-5},{"lv":0},{"lv":5},{"lv":10},{"lv":15},{"lv":20},{"lv":25},{"lv":30}]},
         "mark": {"type": "arc", "theta": 0, "theta2": 6.2832, "filled": false, "stroke": "#c8c8c8", "strokeWidth": 0.9},
         "encoding": {"radius": {"field": "lv", "type": "quantitative", "scale": {"type": "linear", "domain": [-15, 30], "range": [0, 183], "zero": false, "nice": false}}, "radius2": {"datum": -15}}},
        {"data": {"name": "spring"},
         "transform": [{"calculate": "(datum.M + 15) / 45", "as": "r"}, {"calculate": "(datum.i - 1) * PI / 74", "as": "a"}, {"calculate": "datum.r * sin(datum.a)", "as": "px"}, {"calculate": "datum.r * cos(datum.a)", "as": "py"}],
         "mark": {"type": "line", "interpolate": "linear-closed", "stroke": "#2E75B6", "strokeWidth": 0.5},
         "encoding": {
           "x": {"field": "px", "type": "quantitative", "scale": {"domain": [-1.15301, 1.15301], "nice": false, "zero": false}, "axis": null},
           "y": {"field": "py", "type": "quantitative", "scale": {"domain": [-1.09563, 1.09563], "nice": false, "zero": false}, "axis": null},
           "order": {"field": "i", "type": "quantitative"},
           "fill": {"datum": "Mann", "type": "nominal", "scale": {"domain": ["Mann"], "range": ["#2E75B6"]},
             "legend": {"title": "Spring", "orient": "none", "legendX": 398, "legendY": 310, "symbolType": "square", "symbolSize": 64, "symbolStrokeColor": "#2E75B6", "symbolStrokeWidth": 1, "titlePadding": 5, "labelOffset": 4, "titleFont": "Lato", "titleFontSize": 18, "titleFontWeight": "bold", "titleColor": "#000000", "labelFont": "Lato", "labelFontSize": 14, "labelFontWeight": "bold", "labelColor": "#000000"}}
         }},
        {"data": {"name": "spring"},
         "mark": {"type": "arc", "filled": false, "stroke": "#aaaaaa", "strokeWidth": 0.6, "opacity": 0.5},
         "encoding": {"theta": {"field": "i", "type": "ordinal", "scale": {"type": "band", "padding": 0}}, "radius": {"datum": 30, "type": "quantitative"}, "radius2": {"datum": -15}}},
        {"data": {"name": "spring"},
         "transform": [{"calculate": "(datum.S + 15) / 45", "as": "r"}, {"calculate": "(datum.i - 1) * PI / 74", "as": "a"}, {"calculate": "datum.r * sin(datum.a)", "as": "px"}, {"calculate": "datum.r * cos(datum.a)", "as": "py"}],
         "mark": {"type": "line", "interpolate": "linear-closed", "strokeWidth": 2.4},
         "encoding": {"x": {"field": "px", "type": "quantitative"}, "y": {"field": "py", "type": "quantitative"}, "order": {"field": "i", "type": "quantitative"},
           "stroke": {"datum": "Sperman", "type": "nominal", "scale": {"domain": ["Sperman", "ITA"], "range": ["#FFC000", "#FF0000"]},
             "legend": {"title": null, "orient": "none", "legendX": 398, "legendY": 355, "symbolType": "square", "symbolSize": 64, "symbolStrokeWidth": 2.2, "symbolFillColor": "#ffffff", "rowPadding": 4, "labelOffset": 4, "labelFont": "Lato", "labelFontSize": 14, "labelFontWeight": "bold", "labelColor": "#000000"}}}},
        {"data": {"name": "spring"},
         "transform": [{"calculate": "(datum.I + 15) / 45", "as": "r"}, {"calculate": "(datum.i - 1) * PI / 74", "as": "a"}, {"calculate": "datum.r * sin(datum.a)", "as": "px"}, {"calculate": "datum.r * cos(datum.a)", "as": "py"}],
         "mark": {"type": "line", "interpolate": "linear-closed", "strokeWidth": 2.4},
         "encoding": {"x": {"field": "px", "type": "quantitative"}, "y": {"field": "py", "type": "quantitative"}, "order": {"field": "i", "type": "quantitative"}, "stroke": {"datum": "ITA", "type": "nominal"}}},
        {"data": {"name": "spring"}, "transform": [{"filter": "datum.i == 145"}],
         "mark": {"type": "text", "align": "right", "baseline": "bottom", "radiusOffset": 7, "dx": 7, "font": "Lato", "fontSize": 10.5, "color": "#404040"},
         "encoding": {"theta": {"field": "i", "type": "ordinal", "bandPosition": 0}, "radius": {"datum": 30, "type": "quantitative"}, "text": {"field": "i"}}},
        {"data": {"name": "spring"}, "transform": [{"filter": "datum.i % 2 == 1 && (datum.i >= 147 || datum.i <= 5)"}],
         "mark": {"type": "text", "align": "center", "baseline": "bottom", "radiusOffset": 7, "font": "Lato", "fontSize": 10.5, "color": "#404040"},
         "encoding": {"theta": {"field": "i", "type": "ordinal", "bandPosition": 0}, "radius": {"datum": 30, "type": "quantitative"}, "text": {"field": "i"}}},
        {"data": {"name": "spring"}, "transform": [{"filter": "datum.i % 2 == 1 && datum.i >= 7 && datum.i <= 69"}],
         "mark": {"type": "text", "align": "left", "baseline": "middle", "radiusOffset": 6, "font": "Lato", "fontSize": 10.5, "color": "#404040"},
         "encoding": {"theta": {"field": "i", "type": "ordinal", "bandPosition": 0}, "radius": {"datum": 30, "type": "quantitative"}, "text": {"field": "i"}}},
        {"data": {"name": "spring"}, "transform": [{"filter": "datum.i % 2 == 1 && datum.i >= 71 && datum.i <= 79"}],
         "mark": {"type": "text", "align": "center", "baseline": "top", "radiusOffset": 4, "font": "Lato", "fontSize": 10.5, "color": "#404040"},
         "encoding": {"theta": {"field": "i", "type": "ordinal", "bandPosition": 0}, "radius": {"datum": 30, "type": "quantitative"}, "text": {"field": "i"}}},
        {"data": {"name": "spring"}, "transform": [{"filter": "datum.i % 2 == 1 && datum.i >= 81 && datum.i <= 143"}],
         "mark": {"type": "text", "align": "right", "baseline": "middle", "radiusOffset": 6, "font": "Lato", "fontSize": 10.5, "color": "#404040"},
         "encoding": {"theta": {"field": "i", "type": "ordinal", "bandPosition": 0}, "radius": {"datum": 30, "type": "quantitative"}, "text": {"field": "i"}}},
        {"data": {"values": [{"lv":-15},{"lv":-10},{"lv":-5},{"lv":0},{"lv":5},{"lv":10},{"lv":15},{"lv":20},{"lv":25},{"lv":30}]},
         "mark": {"type": "text", "align": "right", "baseline": "middle", "dx": -4, "dy": 3, "font": "Lato", "fontSize": 10.5, "color": "#404040"},
         "encoding": {"theta": {"datum": 1, "type": "ordinal", "bandPosition": 0}, "radius": {"field": "lv", "type": "quantitative"}, "text": {"field": "lv"}}}
      ]
    },
    {
      "width": 422, "height": 401,
      "layer": [
        {"data": {"values": [{"lv":-5},{"lv":0},{"lv":5},{"lv":10},{"lv":15},{"lv":20},{"lv":25},{"lv":30}]},
         "mark": {"type": "arc", "theta": 0, "theta2": 6.2832, "filled": false, "stroke": "#c8c8c8", "strokeWidth": 0.9},
         "encoding": {"radius": {"field": "lv", "type": "quantitative", "scale": {"type": "linear", "domain": [-10, 30], "range": [0, 183], "zero": false, "nice": false}}, "radius2": {"datum": -10}}},
        {"data": {"name": "summer"},
         "transform": [{"calculate": "(datum.M + 10) / 40", "as": "r"}, {"calculate": "(datum.i - 1) * PI / 74", "as": "a"}, {"calculate": "datum.r * sin(datum.a)", "as": "px"}, {"calculate": "datum.r * cos(datum.a)", "as": "py"}],
         "mark": {"type": "line", "interpolate": "linear-closed", "stroke": "#2E75B6", "strokeWidth": 0.5},
         "encoding": {
           "x": {"field": "px", "type": "quantitative", "scale": {"domain": [-1.15301, 1.15301], "nice": false, "zero": false}, "axis": null},
           "y": {"field": "py", "type": "quantitative", "scale": {"domain": [-1.09563, 1.09563], "nice": false, "zero": false}, "axis": null},
           "order": {"field": "i", "type": "quantitative"},
           "fill": {"datum": "Mann", "type": "nominal", "scale": {"domain": ["Mann"], "range": ["#2E75B6"]},
             "legend": {"title": "Summer", "orient": "none", "legendX": 392, "legendY": 310, "symbolType": "square", "symbolSize": 64, "symbolStrokeColor": "#2E75B6", "symbolStrokeWidth": 1, "titlePadding": 5, "labelOffset": 4, "titleFont": "Lato", "titleFontSize": 18, "titleFontWeight": "bold", "titleColor": "#000000", "labelFont": "Lato", "labelFontSize": 14, "labelFontWeight": "bold", "labelColor": "#000000"}}
         }},
        {"data": {"name": "summer"},
         "mark": {"type": "arc", "filled": false, "stroke": "#aaaaaa", "strokeWidth": 0.6, "opacity": 0.5},
         "encoding": {"theta": {"field": "i", "type": "ordinal", "scale": {"type": "band", "padding": 0}}, "radius": {"datum": 30, "type": "quantitative"}, "radius2": {"datum": -10}}},
        {"data": {"name": "summer"},
         "transform": [{"calculate": "(datum.S + 10) / 40", "as": "r"}, {"calculate": "(datum.i - 1) * PI / 74", "as": "a"}, {"calculate": "datum.r * sin(datum.a)", "as": "px"}, {"calculate": "datum.r * cos(datum.a)", "as": "py"}],
         "mark": {"type": "line", "interpolate": "linear-closed", "strokeWidth": 2.4},
         "encoding": {"x": {"field": "px", "type": "quantitative"}, "y": {"field": "py", "type": "quantitative"}, "order": {"field": "i", "type": "quantitative"},
           "stroke": {"datum": "Sperman", "type": "nominal", "scale": {"domain": ["Sperman", "ITA"], "range": ["#FFC000", "#FF0000"]},
             "legend": {"title": null, "orient": "none", "legendX": 392, "legendY": 355, "symbolType": "square", "symbolSize": 64, "symbolStrokeWidth": 2.2, "symbolFillColor": "#ffffff", "rowPadding": 4, "labelOffset": 4, "labelFont": "Lato", "labelFontSize": 14, "labelFontWeight": "bold", "labelColor": "#000000"}}}},
        {"data": {"name": "summer"},
         "transform": [{"calculate": "(datum.I + 10) / 40", "as": "r"}, {"calculate": "(datum.i - 1) * PI / 74", "as": "a"}, {"calculate": "datum.r * sin(datum.a)", "as": "px"}, {"calculate": "datum.r * cos(datum.a)", "as": "py"}],
         "mark": {"type": "line", "interpolate": "linear-closed", "strokeWidth": 2.4},
         "encoding": {"x": {"field": "px", "type": "quantitative"}, "y": {"field": "py", "type": "quantitative"}, "order": {"field": "i", "type": "quantitative"}, "stroke": {"datum": "ITA", "type": "nominal"}}},
        {"data": {"name": "summer"}, "transform": [{"filter": "datum.i == 145"}],
         "mark": {"type": "text", "align": "right", "baseline": "bottom", "radiusOffset": 7, "dx": 7, "font": "Lato", "fontSize": 10.5, "color": "#404040"},
         "encoding": {"theta": {"field": "i", "type": "ordinal", "bandPosition": 0}, "radius": {"datum": 30, "type": "quantitative"}, "text": {"field": "i"}}},
        {"data": {"name": "summer"}, "transform": [{"filter": "datum.i % 2 == 1 && (datum.i >= 147 || datum.i <= 5)"}],
         "mark": {"type": "text", "align": "center", "baseline": "bottom", "radiusOffset": 7, "font": "Lato", "fontSize": 10.5, "color": "#404040"},
         "encoding": {"theta": {"field": "i", "type": "ordinal", "bandPosition": 0}, "radius": {"datum": 30, "type": "quantitative"}, "text": {"field": "i"}}},
        {"data": {"name": "summer"}, "transform": [{"filter": "datum.i % 2 == 1 && datum.i >= 7 && datum.i <= 69"}],
         "mark": {"type": "text", "align": "left", "baseline": "middle", "radiusOffset": 6, "font": "Lato", "fontSize": 10.5, "color": "#404040"},
         "encoding": {"theta": {"field": "i", "type": "ordinal", "bandPosition": 0}, "radius": {"datum": 30, "type": "quantitative"}, "text": {"field": "i"}}},
        {"data": {"name": "summer"}, "transform": [{"filter": "datum.i % 2 == 1 && datum.i >= 71 && datum.i <= 79"}],
         "mark": {"type": "text", "align": "center", "baseline": "top", "radiusOffset": 4, "font": "Lato", "fontSize": 10.5, "color": "#404040"},
         "encoding": {"theta": {"field": "i", "type": "ordinal", "bandPosition": 0}, "radius": {"datum": 30, "type": "quantitative"}, "text": {"field": "i"}}},
        {"data": {"name": "summer"}, "transform": [{"filter": "datum.i % 2 == 1 && datum.i >= 81 && datum.i <= 143"}],
         "mark": {"type": "text", "align": "right", "baseline": "middle", "radiusOffset": 6, "font": "Lato", "fontSize": 10.5, "color": "#404040"},
         "encoding": {"theta": {"field": "i", "type": "ordinal", "bandPosition": 0}, "radius": {"datum": 30, "type": "quantitative"}, "text": {"field": "i"}}},
        {"data": {"values": [{"lv":-10},{"lv":-5},{"lv":0},{"lv":5},{"lv":10},{"lv":15},{"lv":20},{"lv":25},{"lv":30}]},
         "mark": {"type": "text", "align": "right", "baseline": "middle", "dx": -4, "dy": 3, "font": "Lato", "fontSize": 10.5, "color": "#404040"},
         "encoding": {"theta": {"datum": 1, "type": "ordinal", "bandPosition": 0}, "radius": {"field": "lv", "type": "quantitative"}, "text": {"field": "lv"}}}
      ]
    },
    {
      "width": 422, "height": 401,
      "layer": [
        {"data": {"values": [{"lv":-5},{"lv":0},{"lv":5},{"lv":10},{"lv":15},{"lv":20},{"lv":25}]},
         "mark": {"type": "arc", "theta": 0, "theta2": 6.2832, "filled": false, "stroke": "#c8c8c8", "strokeWidth": 0.9},
         "encoding": {"radius": {"field": "lv", "type": "quantitative", "scale": {"type": "linear", "domain": [-10, 25], "range": [0, 183], "zero": false, "nice": false}}, "radius2": {"datum": -10}}},
        {"data": {"name": "autumn"},
         "transform": [{"calculate": "(datum.M + 10) / 35", "as": "r"}, {"calculate": "(datum.i - 1) * PI / 74", "as": "a"}, {"calculate": "datum.r * sin(datum.a)", "as": "px"}, {"calculate": "datum.r * cos(datum.a)", "as": "py"}],
         "mark": {"type": "line", "interpolate": "linear-closed", "stroke": "#2E75B6", "strokeWidth": 0.5},
         "encoding": {
           "x": {"field": "px", "type": "quantitative", "scale": {"domain": [-1.15301, 1.15301], "nice": false, "zero": false}, "axis": null},
           "y": {"field": "py", "type": "quantitative", "scale": {"domain": [-1.09563, 1.09563], "nice": false, "zero": false}, "axis": null},
           "order": {"field": "i", "type": "quantitative"},
           "fill": {"datum": "Mann", "type": "nominal", "scale": {"domain": ["Mann"], "range": ["#2E75B6"]},
             "legend": {"title": "Autumn", "orient": "none", "legendX": 387, "legendY": 304, "symbolType": "square", "symbolSize": 64, "symbolStrokeColor": "#2E75B6", "symbolStrokeWidth": 1, "titlePadding": 5, "labelOffset": 4, "titleFont": "Lato", "titleFontSize": 18, "titleFontWeight": "bold", "titleColor": "#000000", "labelFont": "Lato", "labelFontSize": 14, "labelFontWeight": "bold", "labelColor": "#000000"}}
         }},
        {"data": {"name": "autumn"},
         "mark": {"type": "arc", "filled": false, "stroke": "#aaaaaa", "strokeWidth": 0.6, "opacity": 0.5},
         "encoding": {"theta": {"field": "i", "type": "ordinal", "scale": {"type": "band", "padding": 0}}, "radius": {"datum": 25, "type": "quantitative"}, "radius2": {"datum": -10}}},
        {"data": {"name": "autumn"},
         "transform": [{"calculate": "(datum.S + 10) / 35", "as": "r"}, {"calculate": "(datum.i - 1) * PI / 74", "as": "a"}, {"calculate": "datum.r * sin(datum.a)", "as": "px"}, {"calculate": "datum.r * cos(datum.a)", "as": "py"}],
         "mark": {"type": "line", "interpolate": "linear-closed", "strokeWidth": 2.4},
         "encoding": {"x": {"field": "px", "type": "quantitative"}, "y": {"field": "py", "type": "quantitative"}, "order": {"field": "i", "type": "quantitative"},
           "stroke": {"datum": "Sperman", "type": "nominal", "scale": {"domain": ["Sperman", "ITA"], "range": ["#FFC000", "#FF0000"]},
             "legend": {"title": null, "orient": "none", "legendX": 387, "legendY": 349, "symbolType": "square", "symbolSize": 64, "symbolStrokeWidth": 2.2, "symbolFillColor": "#ffffff", "rowPadding": 4, "labelOffset": 4, "labelFont": "Lato", "labelFontSize": 14, "labelFontWeight": "bold", "labelColor": "#000000"}}}},
        {"data": {"name": "autumn"},
         "transform": [{"calculate": "(datum.I + 10) / 35", "as": "r"}, {"calculate": "(datum.i - 1) * PI / 74", "as": "a"}, {"calculate": "datum.r * sin(datum.a)", "as": "px"}, {"calculate": "datum.r * cos(datum.a)", "as": "py"}],
         "mark": {"type": "line", "interpolate": "linear-closed", "strokeWidth": 2.4},
         "encoding": {"x": {"field": "px", "type": "quantitative"}, "y": {"field": "py", "type": "quantitative"}, "order": {"field": "i", "type": "quantitative"}, "stroke": {"datum": "ITA", "type": "nominal"}}},
        {"data": {"name": "autumn"}, "transform": [{"filter": "datum.i == 145"}],
         "mark": {"type": "text", "align": "right", "baseline": "bottom", "radiusOffset": 7, "dx": 7, "font": "Lato", "fontSize": 10.5, "color": "#404040"},
         "encoding": {"theta": {"field": "i", "type": "ordinal", "bandPosition": 0}, "radius": {"datum": 25, "type": "quantitative"}, "text": {"field": "i"}}},
        {"data": {"name": "autumn"}, "transform": [{"filter": "datum.i % 2 == 1 && (datum.i >= 147 || datum.i <= 5)"}],
         "mark": {"type": "text", "align": "center", "baseline": "bottom", "radiusOffset": 7, "font": "Lato", "fontSize": 10.5, "color": "#404040"},
         "encoding": {"theta": {"field": "i", "type": "ordinal", "bandPosition": 0}, "radius": {"datum": 25, "type": "quantitative"}, "text": {"field": "i"}}},
        {"data": {"name": "autumn"}, "transform": [{"filter": "datum.i % 2 == 1 && datum.i >= 7 && datum.i <= 69"}],
         "mark": {"type": "text", "align": "left", "baseline": "middle", "radiusOffset": 6, "font": "Lato", "fontSize": 10.5, "color": "#404040"},
         "encoding": {"theta": {"field": "i", "type": "ordinal", "bandPosition": 0}, "radius": {"datum": 25, "type": "quantitative"}, "text": {"field": "i"}}},
        {"data": {"name": "autumn"}, "transform": [{"filter": "datum.i % 2 == 1 && datum.i >= 71 && datum.i <= 79"}],
         "mark": {"type": "text", "align": "center", "baseline": "top", "radiusOffset": 4, "font": "Lato", "fontSize": 10.5, "color": "#404040"},
         "encoding": {"theta": {"field": "i", "type": "ordinal", "bandPosition": 0}, "radius": {"datum": 25, "type": "quantitative"}, "text": {"field": "i"}}},
        {"data": {"name": "autumn"}, "transform": [{"filter": "datum.i % 2 == 1 && datum.i >= 81 && datum.i <= 143"}],
         "mark": {"type": "text", "align": "right", "baseline": "middle", "radiusOffset": 6, "font": "Lato", "fontSize": 10.5, "color": "#404040"},
         "encoding": {"theta": {"field": "i", "type": "ordinal", "bandPosition": 0}, "radius": {"datum": 25, "type": "quantitative"}, "text": {"field": "i"}}},
        {"data": {"values": [{"lv":-10},{"lv":-5},{"lv":0},{"lv":5},{"lv":10},{"lv":15},{"lv":20},{"lv":25}]},
         "mark": {"type": "text", "align": "right", "baseline": "middle", "dx": -4, "dy": 3, "font": "Lato", "fontSize": 10.5, "color": "#404040"},
         "encoding": {"theta": {"datum": 1, "type": "ordinal", "bandPosition": 0}, "radius": {"field": "lv", "type": "quantitative"}, "text": {"field": "lv"}}}
      ]
    },
    {
      "width": 422, "height": 401,
      "layer": [
        {"data": {"values": [{"lv":-10},{"lv":-5},{"lv":0},{"lv":5},{"lv":10},{"lv":15},{"lv":20},{"lv":25},{"lv":30},{"lv":35}]},
         "mark": {"type": "arc", "theta": 0, "theta2": 6.2832, "filled": false, "stroke": "#c8c8c8", "strokeWidth": 0.9},
         "encoding": {"radius": {"field": "lv", "type": "quantitative", "scale": {"type": "linear", "domain": [-15, 35], "range": [0, 183], "zero": false, "nice": false}}, "radius2": {"datum": -15}}},
        {"data": {"name": "winter"},
         "transform": [{"calculate": "(datum.M + 15) / 50", "as": "r"}, {"calculate": "(datum.i - 1) * PI / 74", "as": "a"}, {"calculate": "datum.r * sin(datum.a)", "as": "px"}, {"calculate": "datum.r * cos(datum.a)", "as": "py"}],
         "mark": {"type": "line", "interpolate": "linear-closed", "stroke": "#2E75B6", "strokeWidth": 0.5},
         "encoding": {
           "x": {"field": "px", "type": "quantitative", "scale": {"domain": [-1.15301, 1.15301], "nice": false, "zero": false}, "axis": null},
           "y": {"field": "py", "type": "quantitative", "scale": {"domain": [-1.09563, 1.09563], "nice": false, "zero": false}, "axis": null},
           "order": {"field": "i", "type": "quantitative"},
           "fill": {"datum": "Mann", "type": "nominal", "scale": {"domain": ["Mann"], "range": ["#2E75B6"]},
             "legend": {"title": "Winter", "orient": "none", "legendX": 393, "legendY": 307, "symbolType": "square", "symbolSize": 64, "symbolStrokeColor": "#2E75B6", "symbolStrokeWidth": 1, "titlePadding": 5, "labelOffset": 4, "titleFont": "Lato", "titleFontSize": 18, "titleFontWeight": "bold", "titleColor": "#000000", "labelFont": "Lato", "labelFontSize": 14, "labelFontWeight": "bold", "labelColor": "#000000"}}
         }},
        {"data": {"name": "winter"},
         "mark": {"type": "arc", "filled": false, "stroke": "#aaaaaa", "strokeWidth": 0.6, "opacity": 0.5},
         "encoding": {"theta": {"field": "i", "type": "ordinal", "scale": {"type": "band", "padding": 0}}, "radius": {"datum": 35, "type": "quantitative"}, "radius2": {"datum": -15}}},
        {"data": {"name": "winter"},
         "transform": [{"calculate": "(datum.S + 15) / 50", "as": "r"}, {"calculate": "(datum.i - 1) * PI / 74", "as": "a"}, {"calculate": "datum.r * sin(datum.a)", "as": "px"}, {"calculate": "datum.r * cos(datum.a)", "as": "py"}],
         "mark": {"type": "line", "interpolate": "linear-closed", "strokeWidth": 2.4},
         "encoding": {"x": {"field": "px", "type": "quantitative"}, "y": {"field": "py", "type": "quantitative"}, "order": {"field": "i", "type": "quantitative"},
           "stroke": {"datum": "Sperman", "type": "nominal", "scale": {"domain": ["Sperman", "ITA"], "range": ["#FFC000", "#FF0000"]},
             "legend": {"title": null, "orient": "none", "legendX": 393, "legendY": 352, "symbolType": "square", "symbolSize": 64, "symbolStrokeWidth": 2.2, "symbolFillColor": "#ffffff", "rowPadding": 4, "labelOffset": 4, "labelFont": "Lato", "labelFontSize": 14, "labelFontWeight": "bold", "labelColor": "#000000"}}}},
        {"data": {"name": "winter"},
         "transform": [{"calculate": "(datum.I + 15) / 50", "as": "r"}, {"calculate": "(datum.i - 1) * PI / 74", "as": "a"}, {"calculate": "datum.r * sin(datum.a)", "as": "px"}, {"calculate": "datum.r * cos(datum.a)", "as": "py"}],
         "mark": {"type": "line", "interpolate": "linear-closed", "strokeWidth": 2.4},
         "encoding": {"x": {"field": "px", "type": "quantitative"}, "y": {"field": "py", "type": "quantitative"}, "order": {"field": "i", "type": "quantitative"}, "stroke": {"datum": "ITA", "type": "nominal"}}},
        {"data": {"name": "winter"}, "transform": [{"filter": "datum.i == 145"}],
         "mark": {"type": "text", "align": "right", "baseline": "bottom", "radiusOffset": 7, "dx": 7, "font": "Lato", "fontSize": 10.5, "color": "#404040"},
         "encoding": {"theta": {"field": "i", "type": "ordinal", "bandPosition": 0}, "radius": {"datum": 35, "type": "quantitative"}, "text": {"field": "i"}}},
        {"data": {"name": "winter"}, "transform": [{"filter": "datum.i % 2 == 1 && (datum.i >= 147 || datum.i <= 5)"}],
         "mark": {"type": "text", "align": "center", "baseline": "bottom", "radiusOffset": 7, "font": "Lato", "fontSize": 10.5, "color": "#404040"},
         "encoding": {"theta": {"field": "i", "type": "ordinal", "bandPosition": 0}, "radius": {"datum": 35, "type": "quantitative"}, "text": {"field": "i"}}},
        {"data": {"name": "winter"}, "transform": [{"filter": "datum.i % 2 == 1 && datum.i >= 7 && datum.i <= 69"}],
         "mark": {"type": "text", "align": "left", "baseline": "middle", "radiusOffset": 6, "font": "Lato", "fontSize": 10.5, "color": "#404040"},
         "encoding": {"theta": {"field": "i", "type": "ordinal", "bandPosition": 0}, "radius": {"datum": 35, "type": "quantitative"}, "text": {"field": "i"}}},
        {"data": {"name": "winter"}, "transform": [{"filter": "datum.i % 2 == 1 && datum.i >= 71 && datum.i <= 79"}],
         "mark": {"type": "text", "align": "center", "baseline": "top", "radiusOffset": 4, "font": "Lato", "fontSize": 10.5, "color": "#404040"},
         "encoding": {"theta": {"field": "i", "type": "ordinal", "bandPosition": 0}, "radius": {"datum": 35, "type": "quantitative"}, "text": {"field": "i"}}},
        {"data": {"name": "winter"}, "transform": [{"filter": "datum.i % 2 == 1 && datum.i >= 81 && datum.i <= 143"}],
         "mark": {"type": "text", "align": "right", "baseline": "middle", "radiusOffset": 6, "font": "Lato", "fontSize": 10.5, "color": "#404040"},
         "encoding": {"theta": {"field": "i", "type": "ordinal", "bandPosition": 0}, "radius": {"datum": 35, "type": "quantitative"}, "text": {"field": "i"}}},
        {"data": {"values": [{"lv":-15},{"lv":-10},{"lv":-5},{"lv":0},{"lv":5},{"lv":10},{"lv":15},{"lv":20},{"lv":25},{"lv":30},{"lv":35}]},
         "mark": {"type": "text", "align": "right", "baseline": "middle", "dx": -4, "dy": 3, "font": "Lato", "fontSize": 10.5, "color": "#404040"},
         "encoding": {"theta": {"datum": 1, "type": "ordinal", "bandPosition": 0}, "radius": {"field": "lv", "type": "quantitative"}, "text": {"field": "lv"}}}
      ]
    }
  ],
  "resolve": {
    "scale": {"radius": "independent", "fill": "independent", "stroke": "independent"},
    "legend": {"fill": "independent", "stroke": "independent"}
  },
  "config": {
    "view": {"stroke": null},
    "font": "Lato"
  }
}
